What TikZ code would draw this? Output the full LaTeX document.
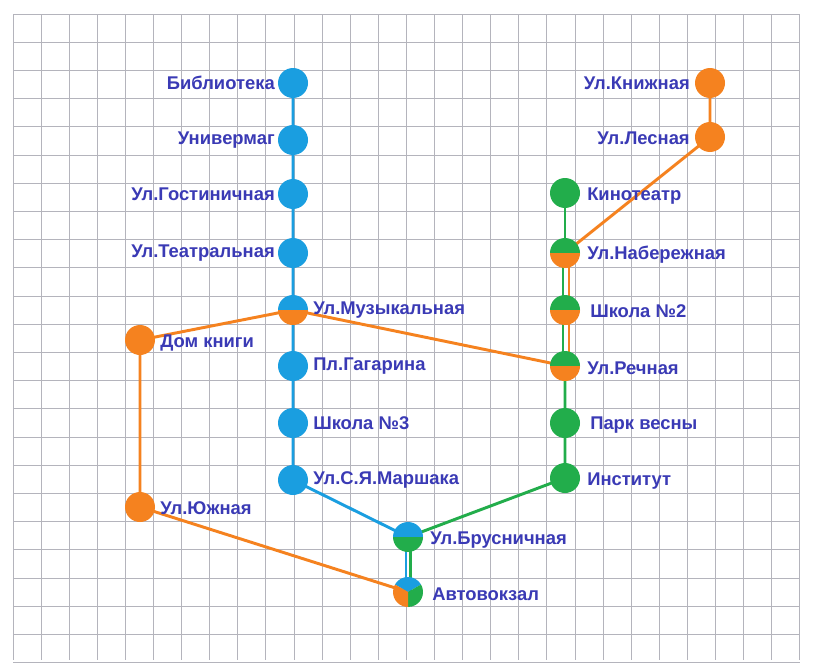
\documentclass[tikz,border=0pt]{standalone}
\usepackage{fontspec}
\setmainfont{Liberation Sans}
\definecolor{mb}{HTML}{1A9EE0}
\definecolor{mg}{HTML}{22AD4B}
\definecolor{mo}{HTML}{F5821F}
\definecolor{tx}{HTML}{3A3AB5}
\definecolor{gr}{HTML}{B4B4BC}
\tikzset{
 st/.style={circle,inner sep=0pt,minimum size=22.5pt},
 lb/.style={text=tx,font=\bfseries\fontsize{13.8}{15}\selectfont,inner sep=0pt},
 ln/.style={line width=2.2pt}
}
\newcommand{\halfc}[3]{\begin{scope}[shift={(#1)},x=1pt,y=1pt]
 \fill[#2] (11.25,0) arc (0:180:11.25) -- cycle;
 \fill[#3] (-11.25,0) arc (180:360:11.25) -- cycle;\end{scope}}
\begin{document}
\begin{tikzpicture}[x=0.75pt,y=-0.75pt]
\useasboundingbox (0,0) rectangle (815,671);
\fill[white] (0,0) rectangle (815,671);
\foreach \i in {0,...,28} \draw[gr,line width=0.7pt] (13+\i*28.1,14) -- (13+\i*28.1,660);
\foreach \j in {0,...,23} \draw[gr,line width=0.7pt] (13,14+\j*28.2) -- (800,14+\j*28.2);
% stations
\node[st] (bib) at (293,83) {};
\node[st] (univ) at (293,140) {};
\node[st] (gost) at (293,194) {};
\node[st] (teat) at (293,253) {};
\node[st] (muz) at (293,310) {};
\node[st] (gag) at (293,366) {};
\node[st] (sh3) at (293,423) {};
\node[st] (mar) at (293,480) {};
\node[st] (brus) at (408,537) {};
\node[st] (avto) at (408,592) {};
\node[st] (kino) at (565,193) {};
\node[st] (nab) at (565,253) {};
\node[st] (sh2) at (565,310) {};
\node[st] (rech) at (565,366) {};
\node[st] (park) at (565,423) {};
\node[st] (inst) at (565,478) {};
\node[st] (knizh) at (710,83) {};
\node[st] (les) at (710,137) {};
\node[st] (dom) at (140,340) {};
\node[st] (yuzh) at (140,507) {};
% lines
\draw[ln,mb] (bib.center) -- (univ.center) -- (gost.center) -- (teat.center) -- (muz.center) -- (gag.center) -- (sh3.center) -- (mar.center) -- (brus.center);
\draw[ln,mb] ([xshift=-1.5pt]brus.center) -- ([xshift=-1.5pt]avto.center);
\draw[ln,mg] ([xshift=2.2pt]brus.center) -- ([xshift=2.2pt]avto.center);
\draw[ln,mg] (kino.center) -- (nab.center);
\draw[ln,mg] ([xshift=-1.5pt]nab.center) -- ([xshift=-1.5pt]rech.center);
\draw[ln,mo] ([xshift=3pt]nab.center) -- ([xshift=3pt]rech.center);
\draw[ln,mg] (rech.center) -- (park.center) -- (inst.center) -- (brus.center);
\draw[ln,mo] (knizh.center) -- (les.center) -- (nab.center);
\draw[ln,mo] (rech.center) -- (muz.center) -- (dom.center) -- (yuzh.center) -- (avto.center);
% circles
\foreach \n in {bib,univ,gost,teat,gag,sh3,mar} \fill[mb] (\n) circle[radius=11.25pt];
\foreach \n in {kino,park,inst} \fill[mg] (\n) circle[radius=11.25pt];
\foreach \n in {knizh,les,dom,yuzh} \fill[mo] (\n) circle[radius=11.25pt];
\halfc{muz}{mb}{mo}
\halfc{nab}{mg}{mo}
\halfc{sh2}{mg}{mo}
\halfc{rech}{mg}{mo}
\halfc{brus}{mb}{mg}
\begin{scope}[shift={(avto)},x=1pt,y=1pt]
 \fill[mb] (0,0) -- (150:11.25) arc (150:30:11.25) -- cycle;
 \fill[mg] (0,0) -- (30:11.25) arc (30:-90:11.25) -- cycle;
 \fill[mo] (0,0) -- (-90:11.25) arc (-90:-210:11.25) -- cycle;
\end{scope}
% labels
\node[lb,anchor=east] at (275,83) {Библиотека};
\node[lb,anchor=east] at (275,140) {Универмаг};
\node[lb,anchor=east] at (275,194) {Ул.Гостиничная};
\node[lb,anchor=east] at (275,253) {Ул.Театральная};
\node[lb,anchor=west] at (313,310) {Ул.Музыкальная};
\node[lb,anchor=west] at (313,366) {Пл.Гагарина};
\node[lb,anchor=west] at (313,423) {Школа №3};
\node[lb,anchor=west] at (313,480) {Ул.С.Я.Маршака};
\node[lb,anchor=west] at (430,540) {Ул.Брусничная};
\node[lb,anchor=west] at (432,594) {Автовокзал};
\node[lb,anchor=west] at (587,196) {Кинотеатр};
\node[lb,anchor=west] at (587,255) {Ул.Набережная};
\node[lb,anchor=west] at (590,311) {Школа №2};
\node[lb,anchor=west] at (587,368) {Ул.Речная};
\node[lb,anchor=west] at (590,425) {Парк весны};
\node[lb,anchor=west] at (587,481) {Институт};
\node[lb,anchor=east] at (690,83) {Ул.Книжная};
\node[lb,anchor=east] at (690,138) {Ул.Лесная};
\node[lb,anchor=west] at (160,343) {Дом книги};
\node[lb,anchor=west] at (160,508) {Ул.Южная};
\end{tikzpicture}
\end{document}
